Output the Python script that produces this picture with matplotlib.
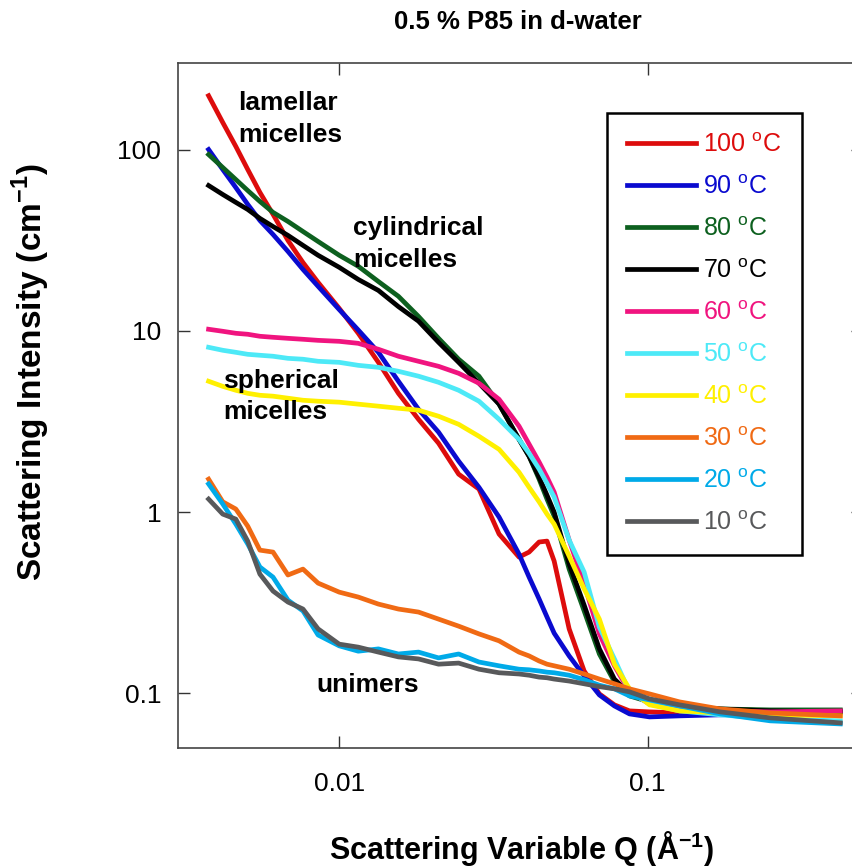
import matplotlib
matplotlib.use("Agg")
import matplotlib.pyplot as plt
from matplotlib.ticker import FixedLocator, FixedFormatter, NullLocator

plt.rcParams['font.family'] = ['Liberation Sans', 'DejaVu Sans']
plt.rcParams['mathtext.fontset'] = 'custom'
plt.rcParams['mathtext.rm'] = 'Liberation Sans'

# Scattering variable Q (1/A), shared by all curves
q = [0.00377, 0.00419, 0.00462, 0.00505, 0.00553, 0.00610, 0.00682, 0.00763, 0.00854,
     0.0100, 0.01153, 0.0134, 0.01556, 0.01808, 0.0210, 0.0244, 0.0284, 0.0330, 0.0383,
     0.0413, 0.0445, 0.0472, 0.0498, 0.0557, 0.0623, 0.0698, 0.0781, 0.0874, 0.1015,
     0.127, 0.172, 0.250, 0.422]

# Scattering intensity (1/cm) per temperature
I_100 = [198, 141, 104, 77.6, 58.0, 43.9, 31.5, 23.8, 18.5, 13.3, 9.69, 6.70, 4.52, 3.25,
         2.40, 1.62, 1.34, 0.757, 0.565, 0.602, 0.684, 0.692, 0.537, 0.227, 0.133, 0.0994,
         0.0865, 0.0801, 0.0791, 0.0781, 0.0781, 0.0791, 0.0801]
I_90 = [100, 77.6, 61.7, 49.8, 40.6, 34.0, 27.4, 21.8, 17.6, 13.1, 10.1, 7.61, 5.27, 3.69,
        2.76, 1.91, 1.37, 0.939, 0.587, 0.438, 0.332, 0.264, 0.215, 0.161, 0.125, 0.0981,
        0.0853, 0.0771, 0.0742, 0.0752, 0.0762, 0.0771, 0.0791]
I_80 = [93.8, 79.6, 68.3, 59.4, 51.7, 45.0, 40.1, 35.3, 31.1, 26.1, 22.7, 18.7, 15.5, 12.0,
        9.09, 6.97, 5.62, 3.94, 2.52, 2.03, 1.52, 1.18, 0.951, 0.485, 0.285, 0.165, 0.116,
        0.0969, 0.0898, 0.0853, 0.0821, 0.0811, 0.0811]
I_70 = [63.3, 56.5, 51.1, 46.7, 41.7, 37.6, 33.6, 29.6, 26.1, 22.4, 19.2, 16.7, 13.6, 11.3,
        8.64, 6.70, 5.14, 3.94, 2.52, 2.03, 1.56, 1.24, 1.00, 0.517, 0.307, 0.176, 0.120,
        0.0994, 0.0909, 0.0853, 0.0821, 0.0801, 0.0791]
I_60 = [10.2, 9.94, 9.69, 9.57, 9.33, 9.21, 9.09, 8.98, 8.86, 8.75, 8.53, 7.91, 7.24, 6.79,
        6.37, 5.83, 5.14, 4.19, 2.98, 2.37, 1.89, 1.56, 1.29, 0.701, 0.401, 0.213, 0.142,
        0.102, 0.0875, 0.0821, 0.0801, 0.0791, 0.0801]
I_50 = [8.11, 7.81, 7.61, 7.42, 7.33, 7.24, 7.05, 6.97, 6.79, 6.70, 6.45, 6.29, 5.98, 5.62,
        5.20, 4.70, 4.09, 3.25, 2.52, 2.11, 1.73, 1.44, 1.21, 0.701, 0.467, 0.232, 0.155,
        0.102, 0.0875, 0.0801, 0.0762, 0.0724, 0.0706]
I_40 = [5.27, 4.94, 4.70, 4.52, 4.41, 4.36, 4.25, 4.14, 4.09, 4.04, 3.94, 3.84, 3.74, 3.65,
        3.38, 3.05, 2.62, 2.22, 1.66, 1.37, 1.14, 0.975, 0.859, 0.572, 0.377, 0.257, 0.145,
        0.106, 0.0865, 0.0801, 0.0781, 0.0762, 0.0752]
I_30 = [1.52, 1.14, 1.04, 0.837, 0.617, 0.602, 0.450, 0.485, 0.406, 0.362, 0.340, 0.311,
        0.292, 0.281, 0.257, 0.235, 0.213, 0.195, 0.169, 0.161, 0.151, 0.145, 0.142, 0.136,
        0.128, 0.120, 0.113, 0.106, 0.0994, 0.0898, 0.0821, 0.0781, 0.0752]
I_20 = [1.43, 1.11, 0.859, 0.667, 0.498, 0.438, 0.327, 0.285, 0.210, 0.183, 0.171, 0.176,
        0.165, 0.169, 0.157, 0.165, 0.149, 0.142, 0.136, 0.135, 0.133, 0.131, 0.130, 0.126,
        0.119, 0.111, 0.106, 0.0969, 0.0921, 0.0853, 0.0771, 0.0706, 0.0679]
I_10 = [1.18, 0.975, 0.915, 0.692, 0.455, 0.367, 0.319, 0.292, 0.227, 0.187, 0.180, 0.169,
        0.159, 0.155, 0.145, 0.147, 0.136, 0.130, 0.128, 0.126, 0.123, 0.122, 0.120, 0.117,
        0.113, 0.109, 0.106, 0.102, 0.0933, 0.0865, 0.0791, 0.0733, 0.0688]

temps = [100, 90, 80, 70, 60, 50, 40, 30, 20, 10]
curves = [I_100, I_90, I_80, I_70, I_60, I_50, I_40, I_30, I_20, I_10]
colors = ['#DD0C0C', '#0A0ACF', '#0D601F', '#000000', '#F0147F',
          '#4DE9F7', '#FFF000', '#F06A14', '#00AAE8', '#58595B']

x_ticks = [0.01, 0.1]
x_ticklabels = ['0.01', '0.1']
y_ticks = [0.1, 1, 10, 100]
y_ticklabels = ['0.1', '1', '10', '100']

fig = plt.figure(figsize=(8.53, 8.67), dpi=100)
ax = fig.add_axes([178/853, 1 - 748/867, 685/853, 685/867])

for T, I, c in zip(temps, curves, colors):
    ax.plot(q, I, color=c, lw=3.4, label=f'{T} $^\\mathregular{{o}}$C')

ax.set_xscale('log')
ax.set_yscale('log')
ax.set_xlim(0.003, 0.5)
ax.set_ylim(0.05, 300)

ax.xaxis.set_major_locator(FixedLocator(x_ticks))
ax.xaxis.set_major_formatter(FixedFormatter(x_ticklabels))
ax.yaxis.set_major_locator(FixedLocator(y_ticks))
ax.yaxis.set_major_formatter(FixedFormatter(y_ticklabels))
ax.xaxis.set_minor_locator(NullLocator())
ax.yaxis.set_minor_locator(NullLocator())

ax.tick_params(which='major', direction='in', length=8.6, width=1.0, color='#333333',
               top=True, right=True, labelsize=19)
ax.tick_params(axis='x', pad=17)
ax.tick_params(axis='y', pad=12)
for sp in ax.spines.values():
    sp.set_color('#444444')
    sp.set_linewidth(1.2)

# annotations
txt = dict(transform=ax.transAxes, fontsize=19, fontweight='bold', va='baseline', ha='left')
ax.text(0.0876, 0.9314, 'lamellar', **txt)
ax.text(0.0876, 0.8847, 'micelles', **txt)
ax.text(0.2555, 0.7489, 'cylindrical', **txt)
ax.text(0.2555, 0.7022, 'micelles', **txt)
ax.text(0.0657, 0.5255, 'spherical', **txt)
ax.text(0.0657, 0.4803, 'micelles', **txt)
ax.text(0.2015, 0.0818, 'unimers', **txt)

leg = ax.legend(loc='upper left', bbox_to_anchor=(0.6263, 0.927), borderaxespad=0,
                fontsize=18, handlelength=2.75, handletextpad=0.3, labelspacing=0.72,
                borderpad=0.8, fancybox=False, framealpha=1)
leg.get_frame().set_edgecolor('black')
leg.get_frame().set_linewidth(1.8)
for t, c in zip(leg.get_texts(), colors):
    t.set_color(c)

fig.text(518/853, 1 - 22/867, '0.5 % P85 in d-water', ha='center', va='center',
         fontsize=18.5, fontweight='bold')
fig.text(31/853, 1 - 372/867, 'Scattering Intensity (cm$^\\mathregular{-1}$)', rotation=90,
         ha='center', va='center', fontsize=24, fontweight='bold')
fig.text(522/853, 1 - 848/867, 'Scattering Variable Q (Å$^\\mathregular{-1}$)', ha='center',
         va='center', fontsize=22, fontweight='bold')

fig.savefig('out.png', dpi=100)
